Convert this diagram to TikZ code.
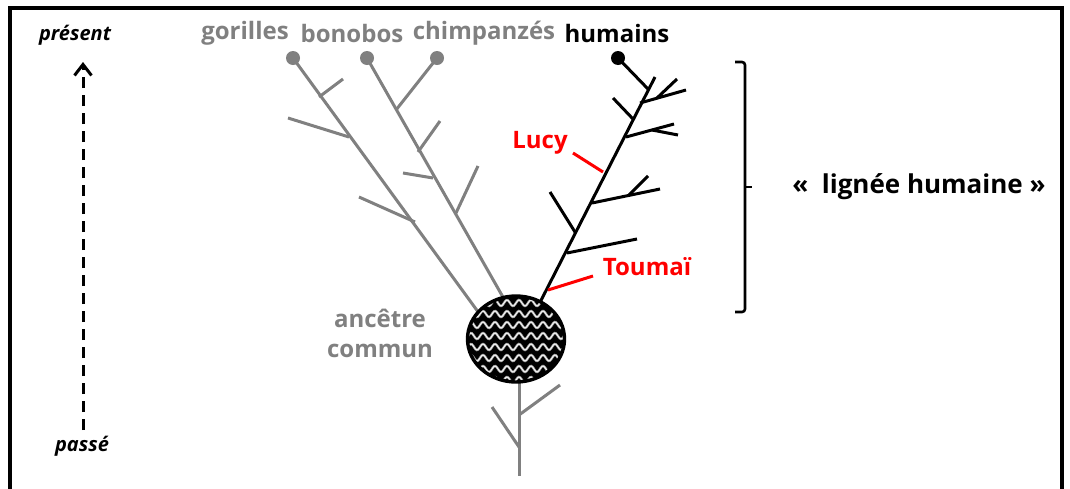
\documentclass[tikz,border=0pt]{standalone}
\usepackage{fontspec}
\setmainfont{Open Sans}
\usetikzlibrary{arrows.meta,shapes.geometric}
\definecolor{gr}{RGB}{128,128,128}
\definecolor{rd}{RGB}{255,0,0}
\begin{document}
\begin{tikzpicture}[x=1pt,y=-1pt,
  graybr/.style={draw=gr,line width=3pt},
  blackbr/.style={draw=black,line width=3pt},
  redln/.style={draw=rd,line width=3pt},
  lbl/.style={font=\bfseries\fontsize{24}{28}\selectfont,inner sep=0pt},
  tlbl/.style={font=\bfseries\itshape\fontsize{20}{22}\selectfont,inner sep=0pt},
  tipdot/.style={circle,fill,inner sep=0pt,minimum size=14pt}]
\useasboundingbox (0,0) rectangle (1070,488);
\fill[white] (0,0) rectangle (1070,488);
\draw[line width=3.2pt] (10,495) -- (10,8) -- (1062,8) -- (1062,495);

% time axis
\node[tlbl] (present) at (75,35) {présent};
\node[tlbl] (passe) at (82,446) {passé};
\coordinate (ta) at (83,430);
\coordinate (tb) at (83,62);
\draw[line width=3pt,dash pattern=on 11pt off 7pt,-{Straight Barb[length=11pt,width=17pt,line width=3pt]}] (ta) -- (tb);

% species labels
\node[lbl,text=gr] (gor) at (245,33) {gorilles};
\node[lbl,text=gr] (bon) at (352,33) {bonobos};
\node[lbl,text=gr] (chi) at (484,33) {chimpanzés};
\node[lbl,text=black] (hum) at (617,33) {humains};

% gray tree
\coordinate (gd) at (293,58);
\coordinate (bd) at (367,58);
\coordinate (cd) at (437,58);
\coordinate (ge) at (484,320);
\coordinate (be) at (516,320);
\coordinate (he) at (531,320);
\coordinate (bc) at (396,110);
\draw[graybr] (gd) -- (ge);
\draw[graybr] (bd) -- (be);
\draw[graybr] (cd) -- (bc);
% gorilla twigs
\draw[graybr] (319,97) -- (343,79);
\draw[graybr] (349,137) -- (288,118);
\draw[graybr] (415,222) -- (359,197);
% bonobo twigs
\draw[graybr] (418,152) -- (440,121);
\draw[graybr] (433,178) -- (403,173);
\draw[graybr] (456,213) -- (478,166);
% dots
\node[tipdot,fill=gr] (gdot) at (gd) {};
\node[tipdot,fill=gr] (bdot) at (bd) {};
\node[tipdot,fill=gr] (cdot) at (cd) {};

% bottom stem
\coordinate (st) at (519,380);
\coordinate (sb) at (519,476);
\draw[graybr] (st) -- (sb);
\draw[graybr] (519,415) -- (560,385);
\draw[graybr] (519,447) -- (492,407);

% black tree
\coordinate (htop) at (655,77);
\coordinate (hd) at (618,58);
\draw[blackbr] (he) -- (htop);
\draw[blackbr] (hd) -- (648,89);
\draw[blackbr] (640,103) -- (686,90);
\draw[blackbr] (657,98) -- (677,79);
\draw[blackbr] (633,119) -- (613,98);
\draw[blackbr] (626,137) -- (674,124);
\draw[blackbr] (652,130) -- (678,135);
\draw[blackbr] (592,203) -- (660,189);
\draw[blackbr] (628,196) -- (648,176);
\draw[blackbr] (575,232) -- (550,192);
\draw[blackbr] (567,253) -- (637,239);
\node[tipdot,fill=black] (hdot) at (hd) {};

% ancestor
\node[ellipse,draw=black,line width=2.4pt,minimum width=98pt,minimum height=87pt,inner sep=0pt,fill=black] (anc) at (516,339) {};
\begin{scope}
\clip (516,339) ellipse (48pt and 42.5pt);
\foreach \yy in {303,314,...,381} {
  \draw[gr!75,line width=2.4pt] plot[domain=0:110,samples=90] ({\x+462},{\yy+3*sin(\x*30)});
  \draw[white,line width=0.8pt] plot[domain=0:110,samples=90] ({\x+462},{\yy+3*sin(\x*30)});
}
\end{scope}
\draw[line width=2.4pt] (anc.center) ellipse (48pt and 42.5pt);

\node[lbl,text=gr,align=center,font=\bfseries\fontsize{24}{30}\selectfont] (anct) at (380,333) {ancêtre\\commun};

% red labels
\node[lbl,text=rd] (lucy) at (540,143) {Lucy};
\coordinate (lucyA) at (573,153);
\coordinate (lucyB) at (603,172);
\draw[redln] (lucyA) -- (lucyB);
\node[lbl,text=rd] (toumai) at (647,267) {Toumaï};
\coordinate (toA) at (593,276);
\coordinate (toB) at (548,290);
\draw[redln] (toA) -- (toB);

% bracket
\coordinate (brt) at (735,62);
\coordinate (brb) at (735,312);
\coordinate (brm) at (752,187);
\draw[line width=2.6pt,rounded corners=3pt] (brt) -- (745,62) -- (745,312) -- (brb);
\draw[line width=2.6pt] (745,187) -- (brm);
\node[lbl,font=\bfseries\fontsize{26}{28}\selectfont] (lign) at (919,187) {«\ \ lignée humaine »};
\end{tikzpicture}
\end{document}
